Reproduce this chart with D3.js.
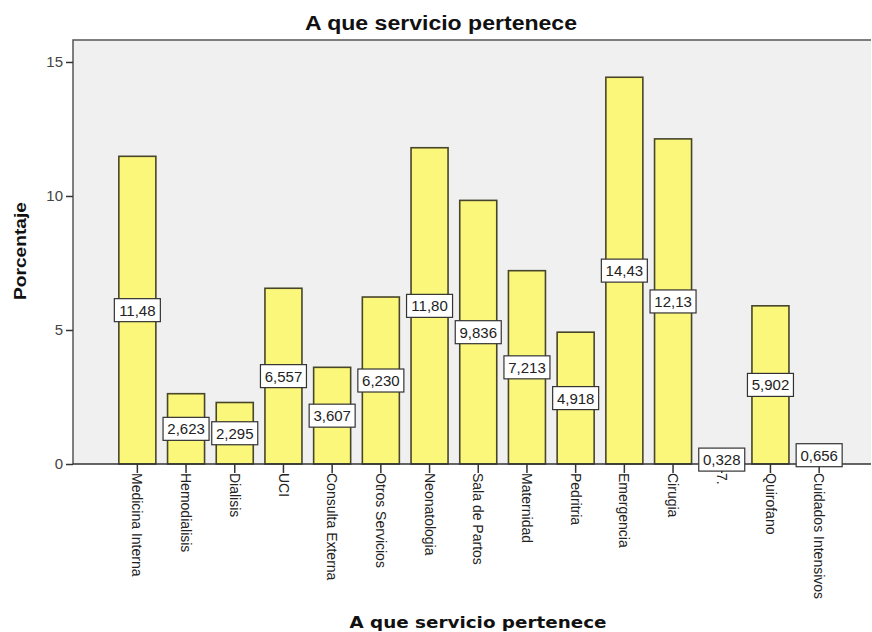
<!DOCTYPE html>
<html>
<head>
<meta charset="utf-8">
<script src="https://cdn.jsdelivr.net/npm/d3@7"></script>
<style>
  body { margin: 0; background: #fff; }
  svg { display: block; font-family: "Liberation Sans", Arial, sans-serif; }
</style>
</head>
<body>
<div id="chart"></div>
<script>
// categories and percentages
var servicios = ['Medicina Interna', 'Hemodialisis', 'Dialisis', 'UCI',
    'Consulta Externa', 'Otros Servicios', 'Neonatologia', 'Sala de Partos',
    'Maternidad', 'Pedritria', 'Emergencia', 'Cirugia', '7.', 'Quirofano',
    'Cuidados Intensivos'];
var porcentajes = [11.48, 2.623, 2.295, 6.557, 3.607, 6.230, 11.80, 9.836,
    7.213, 4.918, 14.43, 12.13, 0.328, 5.902, 0.656];
var etiquetas = ['11,48', '2,623', '2,295', '6,557', '3,607', '6,230', '11,80',
    '9,836', '7,213', '4,918', '14,43', '12,13', '0,328', '5,902', '0,656'];
var yTicks = [0, 5, 10, 15];

var width = 872, height = 632;
var plot = { left: 73, right: 871, top: 40, bottom: 464 };

var svg = d3.select("#chart").append("svg")
    .attr("width", width)
    .attr("height", height);

// scales
var xScale = d3.scaleBand()
    .domain(servicios)
    .range([113, 843.5])
    .paddingInner(0.24)
    .paddingOuter(0.12);

var yScale = d3.scaleLinear()
    .domain([0, 15.82])
    .range([plot.bottom, plot.top]);

// plot background
svg.append("rect")
    .attr("x", plot.left)
    .attr("y", plot.top)
    .attr("width", plot.right - plot.left)
    .attr("height", plot.bottom - plot.top)
    .attr("fill", "#f0f0f0");

svg.append("path")
    .attr("d", "M" + plot.left + "," + plot.bottom + "V" + plot.top + "H" + plot.right)
    .attr("fill", "none")
    .attr("stroke", "#555")
    .attr("stroke-width", 1.5);

// bars
svg.selectAll(".bar")
    .data(porcentajes)
    .enter().append("rect")
    .attr("class", "bar")
    .attr("x", function (d, i) { return xScale(servicios[i]); })
    .attr("width", xScale.bandwidth())
    .attr("y", function (d) { return yScale(d); })
    .attr("height", function (d) { return yScale(0) - yScale(d); })
    .attr("fill", "#fbf77b")
    .attr("stroke", "#47452a")
    .attr("stroke-width", 1.6);

// y axis
var yAxis = d3.axisLeft(yScale).tickValues(yTicks).tickSize(7).tickPadding(3);
var gy = svg.append("g")
    .attr("transform", "translate(" + plot.left + ",0)")
    .call(yAxis);
gy.select(".domain").remove();
gy.selectAll(".tick line").attr("stroke", "#333").attr("stroke-width", 1.5);
gy.selectAll(".tick text").attr("font-size", 15).attr("fill", "#444")
    .attr("font-family", "Liberation Sans, Arial, sans-serif");

// x axis
var xAxis = d3.axisBottom(xScale).tickSize(9).tickPadding(2);
var gx = svg.append("g")
    .attr("transform", "translate(0," + plot.bottom + ")")
    .call(xAxis);
gx.select(".domain").attr("d", "M" + plot.left + ",0H" + plot.right)
    .attr("stroke", "#333").attr("stroke-width", 1.5);
gx.selectAll(".tick line").attr("stroke", "#333").attr("stroke-width", 1.5);
gx.selectAll(".tick text")
    .attr("font-size", 14)
    .attr("fill", "#222")
    .attr("font-family", "Liberation Sans, Arial, sans-serif")
    .attr("text-anchor", "start")
    .attr("dy", "0.35em")
    .attr("transform", "translate(0,9) rotate(90)")
    .attr("y", 0)
    .attr("x", 0);

// value labels centered on each bar
var labels = svg.selectAll(".lbl")
    .data(porcentajes)
    .enter().append("g")
    .attr("class", "lbl")
    .attr("transform", function (d, i) {
        return "translate(" + (xScale(servicios[i]) + xScale.bandwidth() / 2) + "," + yScale(d / 2) + ")";
    });

labels.append("rect")
    .attr("x", -23)
    .attr("y", -11.5)
    .attr("width", 46)
    .attr("height", 23)
    .attr("fill", "#fff")
    .attr("stroke", "#333")
    .attr("stroke-width", 1.2);

labels.append("text")
    .attr("text-anchor", "middle")
    .attr("dy", "0.36em")
    .attr("font-size", 15)
    .attr("fill", "#222")
    .text(function (d, i) { return etiquetas[i]; });

// titles
svg.append("text")
    .attr("x", 441)
    .attr("y", 30)
    .attr("text-anchor", "middle")
    .attr("font-weight", "bold")
    .attr("font-size", 20)
    .attr("textLength", 272)
    .attr("lengthAdjust", "spacingAndGlyphs")
    .attr("fill", "#111")
    .text("A que servicio pertenece");

svg.append("text")
    .attr("x", 478)
    .attr("y", 628)
    .attr("text-anchor", "middle")
    .attr("font-family", "DejaVu Sans, sans-serif")
    .attr("font-weight", "bold")
    .attr("font-size", 16)
    .attr("textLength", 257)
    .attr("lengthAdjust", "spacingAndGlyphs")
    .attr("fill", "#111")
    .text("A que servicio pertenece");

svg.append("text")
    .attr("transform", "translate(26,251) rotate(-90)")
    .attr("text-anchor", "middle")
    .attr("font-weight", "bold")
    .attr("font-size", 17)
    .attr("textLength", 98)
    .attr("lengthAdjust", "spacingAndGlyphs")
    .attr("fill", "#111")
    .text("Porcentaje");
</script>
</body>
</html>
